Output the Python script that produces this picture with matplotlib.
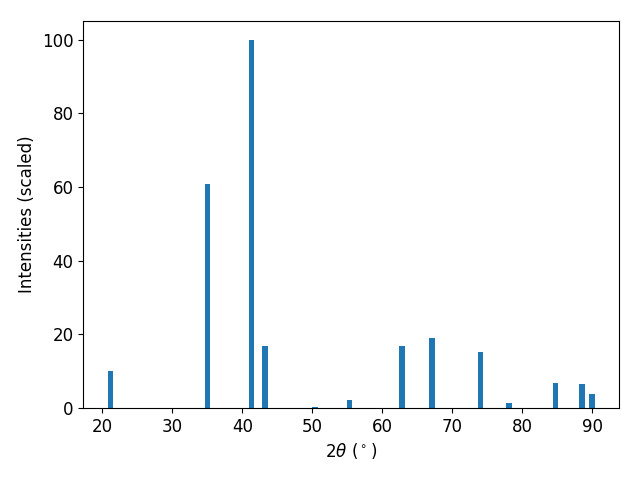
import matplotlib
matplotlib.use('Agg')
import matplotlib.pyplot as plt

two_theta = [21.14, 35.04, 41.3, 43.26, 50.35, 55.3, 62.8, 67.1, 74.0, 78.1, 84.7, 88.5, 89.9]
intensity = [10.0, 60.7, 100.0, 16.8, 0.3, 2.1, 16.8, 18.9, 15.2, 1.3, 6.7, 6.4, 3.8]

plt.rcParams['font.size'] = 12

fig, ax = plt.subplots(figsize=(6.4, 4.8), dpi=100)
ax.bar(two_theta, intensity, width=0.8)
ax.set_xlabel(r'$2\theta$ ($^\circ$)')
ax.set_ylabel('Intensities (scaled)')

plt.subplots_adjust(left=0.13, right=0.967, top=0.956, bottom=0.15)
plt.savefig('out.png')
